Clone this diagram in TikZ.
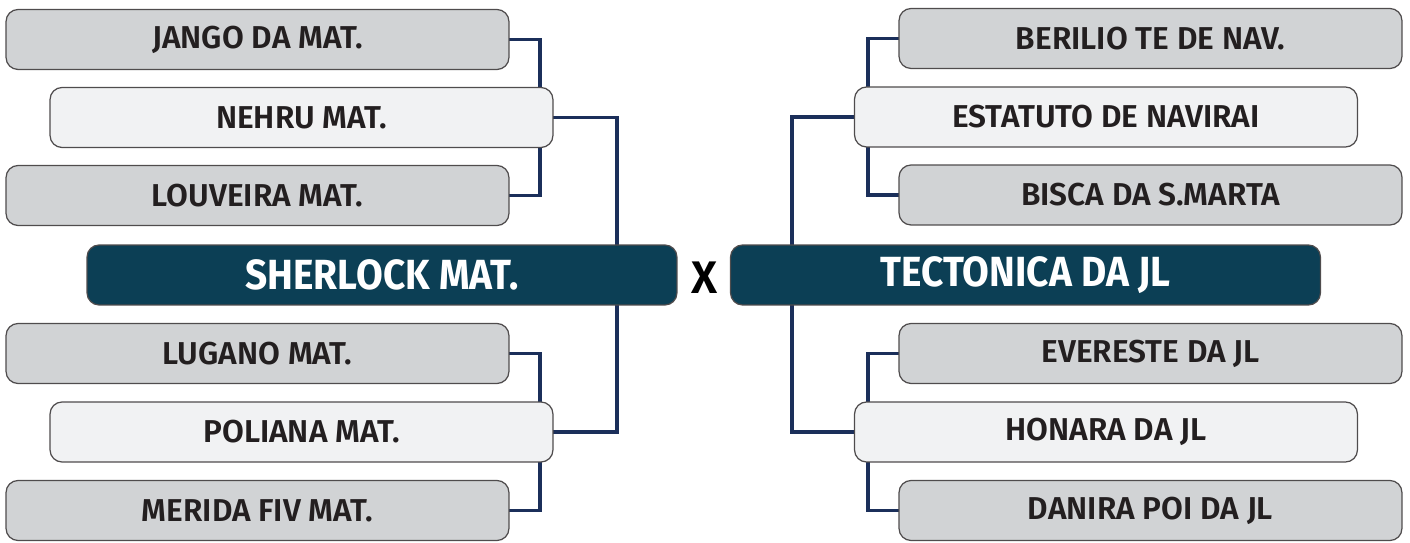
\documentclass[tikz,border=0pt]{standalone}
\usepackage{fontspec}
\setmainfont{Fira Sans}[FakeStretch=0.92]
\newfontfamily\teamfont{Fira Sans SemiBold}
\usetikzlibrary{backgrounds}
\definecolor{boxgray}{HTML}{D1D3D5}
\definecolor{boxlight}{HTML}{F1F2F3}
\definecolor{boxdark}{HTML}{0C3F55}
\definecolor{linknavy}{HTML}{1B2F5A}
\definecolor{inkdark}{HTML}{231F20}

\tikzset{
	teambox/.style={draw=inkdark!80, line width=0.7pt, rounded corners=0.24cm, fill=boxgray,
		minimum width=10.06cm, minimum height=1.2cm, inner sep=0pt, outer sep=0pt,
		text=inkdark, font=\teamfont\fontsize{18}{20}\selectfont},
	semibox/.style={teambox, fill=boxlight},
	finalbox/.style={teambox, fill=boxdark, minimum width=11.8cm, text=white,
		font=\bfseries\fontsize{24}{26}\selectfont},
	link/.style={draw=linknavy, line width=2.2pt}
}

\begin{document}
\begin{tikzpicture}[x=0.02cm, y=-0.02cm]
			\useasboundingbox (0,0) rectangle (1410,543);

			% left side
			\node[teambox] (jango) at (257.5,39.5) {JANGO DA MAT.};
			\node[semibox] (nehru) at (301.5,117.5) {NEHRU MAT.};
			\node[teambox] (louveira) at (257.5,195.5) {LOUVEIRA MAT.};
			\node[finalbox] (sherlock) at (382,275) {SHERLOCK MAT.};
			\node[teambox] (lugano) at (257.5,353.5) {LUGANO MAT.};
			\node[semibox] (poliana) at (301.5,432) {POLIANA MAT.};
			\node[teambox] (merida) at (257.5,510.5) {MERIDA FIV MAT.};

			% right side
			\node[teambox] (berilio) at (1150.5,38.5) {BERILIO TE DE NAV.};
			\node[semibox] (estatuto) at (1106,117) {ESTATUTO DE NAVIRAI};
			\node[teambox] (bisca) at (1150.5,195) {BISCA DA S.MARTA};
			\node[finalbox] (tectonica) at (1025.5,275) {TECTONICA DA JL};
			\node[teambox] (evereste) at (1150.5,353.5) {EVERESTE DA JL};
			\node[semibox] (honara) at (1106,432) {HONARA DA JL};
			\node[teambox] (danira) at (1150.5,510.5) {DANIRA POI DA JL};

			\node[font=\teamfont\fontsize{26}{28}\selectfont, inner sep=0pt] (versus) at (705,278) {X};

			\begin{scope}[on background layer]
				\draw[link] (jango.east) -| (540,117) |- (louveira.east);
				\draw[link] (lugano.east) -| (540,432) |- (merida.east);
				\draw[link] (nehru.east) -| (617,275) |- (poliana.east);
				\draw[link] (berilio.west) -| (868,117) |- (bisca.west);
				\draw[link] (evereste.west) -| (868,432) |- (danira.west);
				\draw[link] (estatuto.west) -| (792,275) |- (honara.west);
			\end{scope}
		\end{tikzpicture}
\end{document}
